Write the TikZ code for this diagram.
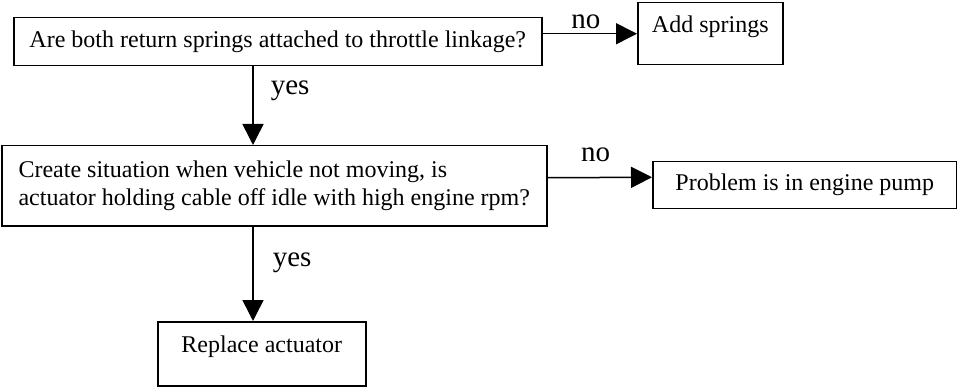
\documentclass[tikz,border=0pt]{standalone}
\usepackage{fontspec}
\setmainfont{Liberation Serif}
\usetikzlibrary{arrows.meta,positioning}

\begin{document}
\begin{tikzpicture}[
    x=1pt, y=-1pt,
    box/.style={rectangle, draw=black, line width=1.5pt, inner sep=0pt, anchor=north west, font=\fontsize{24}{28.5}\selectfont},
    tall/.style={text depth=20pt},
    flow/.style={line width=1.5pt, -{Triangle[length=21pt,width=21pt]}},
    answer/.style={font=\fontsize{29}{34}\selectfont, inner sep=0pt},
]
\useasboundingbox (0,0) rectangle (957,387);

% Question and action boxes
\node[box, minimum width=528pt, minimum height=48pt] (springs) at (13,17) {Are both return springs attached to throttle linkage?};
\node[box, tall, minimum width=145pt, minimum height=62pt] (addsprings) at (637,2) {Add springs};
\node[box, align=left, minimum width=545pt, minimum height=80pt] (actuator) at (1,145) {Create situation when vehicle not moving, is\\actuator holding cable off idle with high engine rpm?};
\node[box, minimum width=304pt, minimum height=47pt] (pump) at (652,161) {Problem is in engine pump};
\node[box, tall, minimum width=208pt, minimum height=64pt] (replace) at (157,321) {Replace actuator};

% Column of the yes branch
\coordinate (stem) at (253,0);

% Connectors
\draw[flow] ([yshift=8pt]springs.east) -- node[answer, above=4pt, pos=.46] {no} (addsprings.west);
\draw[flow] (springs.south -| stem) -- node[answer, right=17pt, pos=.31] {yes} (actuator.north -| stem);
\draw[flow] ([yshift=8pt]actuator.east) -- node[answer, above=15pt, pos=.46] {no} ([yshift=8pt]pump.west);
\draw[flow] (actuator.south -| stem) -- node[answer, right=19pt, pos=.385] {yes} (replace.north -| stem);

\end{tikzpicture}
\end{document}
